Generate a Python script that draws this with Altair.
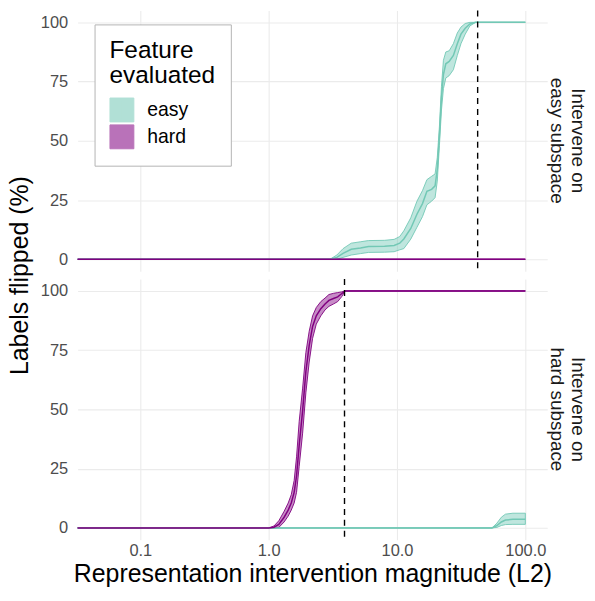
import altair as alt
import pandas as pd

# ---------------- data ----------------
panels = ["easy subspace", "hard subspace"]
strip_line1 = ["Intervene on", "Intervene on"]
strip_line2 = ["easy subspace", "hard subspace"]

# top panel (intervene on easy subspace), feature "easy"
te_x = [0.03, 3.0, 3.4, 3.8, 4.4, 5.2, 6.0, 8.0, 9.5, 10.5, 11.3, 12.8, 14.3, 15.8, 17.1,
        18.6, 19.8, 20.6, 21.4, 22.2, 23.0, 24.0, 25.5, 27.5, 29.5, 31.5, 34.0, 37.0, 41.0, 100]
te_m = [0, 0, 0.8, 2.5, 4.2, 4.8, 5.4, 5.5, 5.8, 6.8, 8.6, 13, 19, 23.5, 28.7,
        29.5, 31, 38, 52, 68, 78, 82.5, 83.5, 86, 91, 95, 97.5, 99.3, 100, 100]
te_lo = [0, 0, 0, 0.8, 1.8, 2.4, 2.9, 3.0, 3.2, 4.0, 4.5, 8.5, 13.5, 18, 23,
         24.5, 26, 33, 48, 63, 72, 76.5, 77.5, 80, 86, 91, 95, 98.5, 100, 100]
te_hi = [0, 0, 1.8, 4.5, 6.8, 7.4, 7.9, 8.0, 8.4, 9.6, 12, 17.5, 24.5, 29, 33.6,
         35, 36, 43, 56, 73, 84, 87.5, 88, 91, 95.5, 98, 99.5, 100, 100, 100]

# top panel, feature "hard"
th_x = [0.03, 100]
th_m = [0, 0]
th_lo = [0, 0]
th_hi = [0, 0]

# bottom panel (intervene on hard subspace), feature "hard"
bh_x = [0.03, 1.0, 1.1, 1.2, 1.32, 1.42, 1.5, 1.58, 1.65, 1.73, 1.84, 1.95, 2.07, 2.2,
        2.35, 2.55, 2.75, 2.95, 3.2, 3.45, 3.7, 3.95, 100]
bh_m = [0, 0, 0.3, 1.5, 4.5, 7.5, 10.5, 15, 22, 35, 49.5, 66, 77, 85,
        89.5, 92.5, 94.5, 96, 96.8, 97.5, 98.8, 100, 100]
bh_lo = [0, 0, 0, 0.2, 2.5, 5, 7.5, 10.5, 15, 26, 40, 57, 70, 80,
         86, 89.5, 92, 93.5, 94.5, 95.5, 97.5, 100, 100]
bh_hi = [0, 0, 0.8, 3, 7, 10.5, 14, 20, 30, 45, 59, 74, 83, 89.5,
         93, 95.5, 97, 98.5, 99, 99.3, 99.6, 100, 100]

# bottom panel, feature "easy"
be_x = [0.03, 55, 60, 65, 70, 80, 100]
be_m = [0, 0, 1, 2.5, 3.3, 3.6, 3.7]
be_lo = [0, 0, 0.2, 1, 1.4, 1.5, 1.5]
be_hi = [0, 0, 2, 4.5, 5.8, 6.2, 6.2]

# dashed reference lines (one per panel)
rule_x = [42.5, 3.9]

features = ["easy", "hard"]
colors = ["#72c8b5", "#800080"]

x_ticks = [0.1, 1, 10, 100]
y_ticks = [0, 25, 50, 75, 100]

rows = []
for panel, feat, xs, ms, los, his in [
    (panels[0], "easy", te_x, te_m, te_lo, te_hi),
    (panels[0], "hard", th_x, th_m, th_lo, th_hi),
    (panels[1], "easy", be_x, be_m, be_lo, be_hi),
    (panels[1], "hard", bh_x, bh_m, bh_lo, bh_hi),
]:
    for a, b, c, d in zip(xs, ms, los, his):
        rows.append(dict(panel=panel, feature=feat, x=a, mean=b, lo=c, hi=d))
curves = pd.DataFrame(rows)
rules = pd.DataFrame({"panel": panels, "x": rule_x})
strips = pd.DataFrame({"panel": panels, "line1": strip_line1, "line2": strip_line2})

FONT = "Liberation Sans"
W, H = 472, 262

xscale = alt.Scale(type="log", domain=[0.0325, 148], nice=False)
yscale = alt.Scale(domain=[-5, 105], nice=False, zero=False)
cscale = alt.Scale(domain=features, range=colors)

legend = alt.Legend(
    title=["Feature", "evaluated"],
    orient="none", legendX=17, legendY=14,
    symbolType="M-1,-1H1V1H-1Z M-1,0H1 M0,-0.75V0.75",
    symbolSize=576, symbolStrokeWidth=1, symbolOpacity=0.55,
)


def panel_chart(i):
    p = panels[i]
    bottom = i == 1
    xaxis = alt.Axis(values=x_ticks, format=".1f",
                     title="Representation intervention magnitude (L2)" if bottom else None,
                     labels=bottom)
    if i == 0:
        yaxis = alt.Axis(values=y_ticks, title="Labels flipped (%)",
                         titleX=-58, titleY=H + 4, titleBaseline="middle",
                         titleAngle=-90, titleAlign="center")
    else:
        yaxis = alt.Axis(values=y_ticks, title=None)

    cdata = alt.Chart(curves).transform_filter(alt.datum.panel == p)
    area = cdata.mark_area(fillOpacity=0.45, strokeWidth=0.9, clip=True).encode(
        x=alt.X("x:Q", scale=xscale, axis=xaxis),
        y=alt.Y("lo:Q", scale=yscale, axis=yaxis),
        y2="hi:Q",
        fill=alt.Fill("feature:N", scale=cscale, legend=legend),
        stroke=alt.Stroke("feature:N", scale=cscale, legend=legend),
    )
    line = cdata.mark_line(strokeWidth=1.5, clip=True).encode(
        x=alt.X("x:Q", scale=xscale),
        y=alt.Y("mean:Q", scale=yscale),
        stroke=alt.Stroke("feature:N", scale=cscale, legend=legend),
    )
    rule = alt.Chart(rules).transform_filter(alt.datum.panel == p).mark_rule(
        color="black", strokeDash=[6, 5], strokeWidth=1.4
    ).encode(x=alt.X("x:Q", scale=xscale))
    sdata = alt.Chart(strips).transform_filter(alt.datum.panel == p)
    style = dict(angle=90, fontSize=19, font=FONT, color="#1a1a1a",
                 align="center", baseline="middle")
    strip1 = sdata.mark_text(**style).encode(
        x=alt.value(W + 30.5), y=alt.value(H / 2), text="line1:N")
    strip2 = sdata.mark_text(**style).encode(
        x=alt.value(W + 9.5), y=alt.value(H / 2), text="line2:N")
    return alt.layer(area, line, rule, strip1, strip2).properties(width=W, height=H)


chart = alt.vconcat(panel_chart(0), panel_chart(1), spacing=8, bounds="flush").resolve_scale(
    fill="shared", stroke="shared"
).resolve_legend(fill="shared", stroke="shared").configure(
    font=FONT,
    padding={"left": 0, "top": 0, "right": 0, "bottom": 0},
).configure_view(stroke=None).configure_axis(
    grid=True, gridColor="#ebebeb", gridWidth=1.1,
    domain=False, ticks=False,
    labelFont=FONT, labelFontSize=16.5, labelColor="#4d4d4d", labelPadding=10,
    titleFont=FONT, titleFontSize=25, titleFontWeight="normal", titleColor="black",
    titlePadding=2,
).configure_axisX(labelPadding=3).configure_legend(
    fillColor="white", strokeColor="#b3b3b3", strokeWidth=1,
    padding=15, titleFont=FONT, titleFontSize=24.5, titleFontWeight="normal",
    titleColor="black", titleLineHeight=25, titlePadding=9,
    labelFont=FONT, labelFontSize=19.5, labelColor="black", labelOffset=13,
    rowPadding=-5, cornerRadius=0,
)

chart.save("out.html", embed_options={"renderer": "svg", "actions": False})
